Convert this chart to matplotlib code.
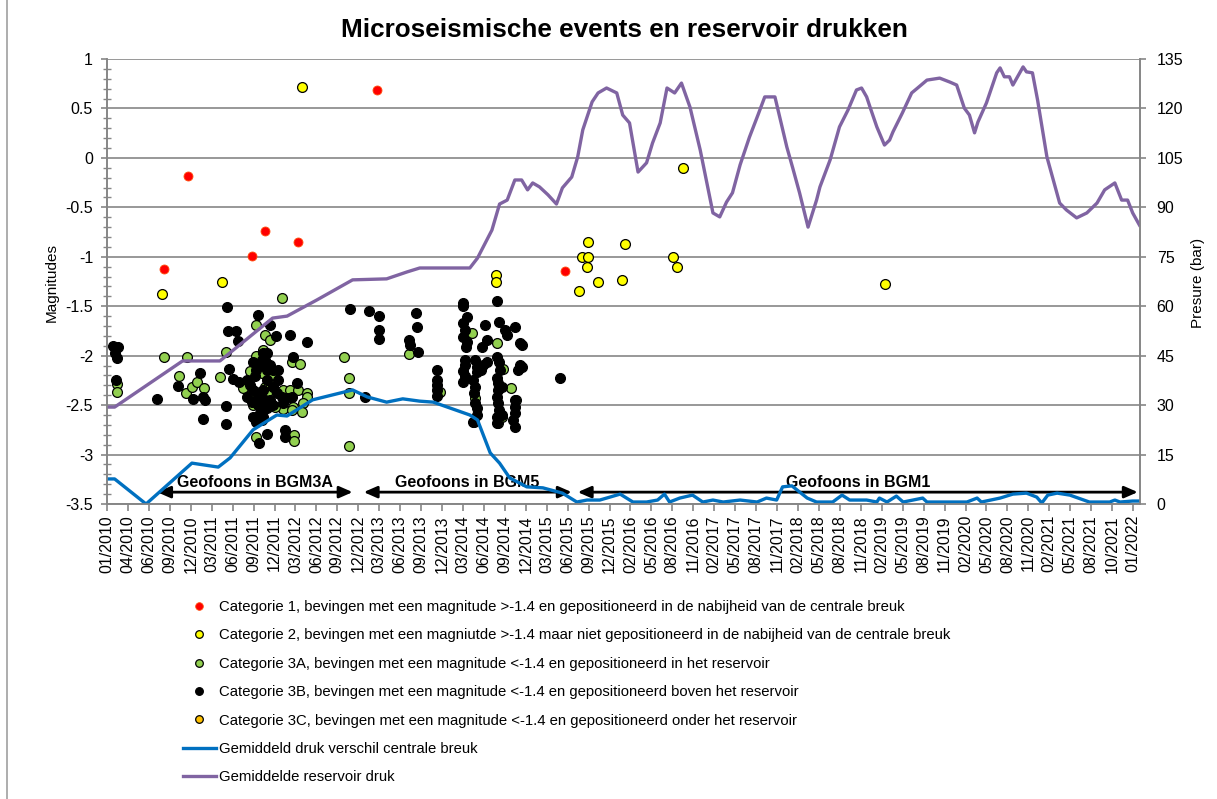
import numpy as np
import matplotlib
matplotlib.use('Agg')
import matplotlib.pyplot as plt
import matplotlib.dates as mdates
from matplotlib.lines import Line2D
from datetime import datetime, timedelta

plt.rcParams['font.family'] = ['Liberation Sans', 'DejaVu Sans']
plt.rcParams['axes.unicode_minus'] = False

# ---------------- data (decimal years) ----------------
cat1_years = [2010.67, 2010.95, 2011.71, 2011.86, 2012.25, 2013.18, 2015.39]
cat1_mags = [-1.12, -0.18, -0.99, -0.74, -0.85, 0.69, -1.14]

cat2_years = [2010.65, 2011.35, 2012.29, 2014.58, 2014.58, 2015.56, 2015.59, 2015.66, 2015.66,
              2015.65, 2015.78, 2016.06, 2016.10, 2016.66, 2016.71, 2016.78, 2019.16]
cat2_mags = [-1.38, -1.25, 0.72, -1.18, -1.25, -1.35, -1.00, -1.00, -0.85,
             -1.10, -1.25, -1.23, -0.87, -1.00, -1.10, -0.10, -1.28]

cat3a_years = [2010.12, 2010.12, 2010.67, 2010.94, 2010.85, 2010.93, 2011.00, 2011.06, 2011.14, 2011.33,
               2011.40, 2012.06, 2011.76, 2011.86, 2011.92, 2011.76, 2012.18, 2012.27, 2012.79, 2012.85,
               2012.85, 2012.85, 2011.75, 2012.20, 2012.20, 2011.68, 2011.60, 2011.86, 2011.95, 2012.07,
               2012.15, 2012.25, 2012.35, 2012.36, 2012.31, 2012.29, 2012.19, 2012.07, 2011.98, 2011.72,
               2011.88, 2011.82, 2011.94, 2011.76, 2011.71, 2012.18, 2013.55, 2013.92, 2014.29, 2014.59,
               2014.66, 2014.75, 2014.81, 2014.33, 2014.32, 2014.65, 2014.60, 2011.84]
cat3a_mags = [-2.29, -2.37, -2.01, -2.01, -2.21, -2.38, -2.32, -2.27, -2.33, -2.22,
              -1.96, -1.42, -1.69, -1.79, -1.84, -2.00, -2.06, -2.08, -2.01, -2.23,
              -2.38, -2.91, -2.82, -2.80, -2.86, -2.16, -2.33, -2.32, -2.30, -2.35,
              -2.35, -2.35, -2.38, -2.42, -2.48, -2.57, -2.52, -2.54, -2.52, -2.50,
              -2.38, -2.18, -2.23, -2.37, -2.42, -2.55, -1.98, -2.37, -1.77, -1.87,
              -2.13, -2.33, -2.45, -2.43, -2.67, -2.62, -2.68, -1.94]

cat3b_years = [2010.07, 2010.13, 2010.12, 2010.09, 2010.11, 2010.59, 2010.84, 2011.01, 2011.09, 2011.13,
               2011.15, 2011.13, 2011.41, 2011.42, 2011.52, 2011.54, 2011.40, 2011.40, 2011.44, 2011.48,
               2011.78, 2011.92, 2011.99, 2012.16, 2012.19, 2012.35, 2012.24, 2011.88, 2012.09, 2012.09,
               2011.79, 2011.84, 2011.89, 2011.82, 2011.88, 2011.95, 2012.01,
               2011.65, 2011.56, 2011.68, 2011.72, 2011.65, 2011.71, 2011.78, 2011.80, 2011.84, 2011.88,
               2011.92, 2012.00, 2012.06, 2012.07, 2012.12, 2012.18, 2011.95, 2012.01, 2011.88, 2011.84,
               2011.74, 2011.80, 2011.86, 2011.72, 2011.76, 2011.92, 2011.78, 2011.86, 2011.95, 2011.72,
               2011.76, 2011.82, 2011.82,
               2012.86, 2013.04, 2013.08, 2013.20, 2013.20, 2013.20, 2013.64, 2013.65, 2013.55, 2013.56,
               2013.66, 2013.88, 2013.88, 2013.88, 2013.88, 2013.88,
               2014.19, 2014.19, 2014.24, 2014.19, 2014.21, 2014.19, 2014.24, 2014.22, 2014.21, 2014.21,
               2014.19, 2014.21, 2014.19, 2014.33, 2014.35, 2014.36, 2014.31, 2014.33, 2014.32, 2014.33,
               2014.35, 2014.36, 2014.31, 2014.40, 2014.42, 2014.47, 2014.45, 2014.47, 2014.41, 2014.59,
               2014.61, 2014.68, 2014.71, 2014.80, 2014.86, 2014.88, 2014.86, 2014.84, 2014.89, 2015.33,
               2014.59, 2014.61, 2014.62, 2014.59, 2014.60, 2014.60, 2014.59, 2014.60, 2014.61, 2014.59,
               2014.59, 2014.65, 2014.65, 2014.80, 2014.80, 2014.80, 2014.78, 2014.80]
cat3b_mags = [-1.90, -1.91, -2.02, -1.97, -2.25, -2.44, -2.31, -2.44, -2.18, -2.42,
              -2.45, -2.64, -1.51, -1.75, -1.75, -1.85, -2.51, -2.69, -2.13, -2.24,
              -1.59, -1.69, -1.80, -1.79, -2.01, -1.86, -2.28, -2.79, -2.75, -2.82,
              -2.88, -1.97, -1.97, -2.04, -2.14, -2.14, -2.14,
              -2.25, -2.27, -2.30, -2.35, -2.42, -2.47, -2.50, -2.58, -2.62, -2.53,
              -2.45, -2.38, -2.42, -2.48, -2.43, -2.42, -2.32, -2.25, -2.25, -2.35,
              -2.21, -2.09, -2.04, -2.06, -2.14, -2.09, -2.42, -2.45, -2.50, -2.62,
              -2.67, -2.65, -2.55,
              -1.53, -2.42, -1.55, -1.60, -1.74, -1.83, -1.57, -1.71, -1.84, -1.89,
              -1.96, -2.14, -2.25, -2.30, -2.35, -2.41,
              -1.47, -1.50, -1.61, -1.67, -1.74, -1.81, -1.86, -1.91, -2.04, -2.09,
              -2.16, -2.21, -2.27, -2.04, -2.11, -2.17, -2.25, -2.32, -2.38, -2.48,
              -2.53, -2.60, -2.67, -2.14, -2.09, -2.06, -1.69, -1.84, -1.91, -1.45,
              -1.66, -1.74, -1.79, -1.71, -1.87, -1.89, -2.09, -2.14, -2.11, -2.23,
              -2.01, -2.06, -2.14, -2.23, -2.28, -2.35, -2.42, -2.48, -2.55, -2.62,
              -2.68, -2.60, -2.32, -2.45, -2.52, -2.58, -2.65, -2.72]

cat3c_years = []
cat3c_mags = []

breuk_years = [2010.00, 2010.09, 2010.46, 2011.00, 2011.31, 2011.45, 2011.72, 2012.00, 2012.12, 2012.42,
               2012.89, 2013.06, 2013.29, 2013.48, 2013.68, 2013.84, 2014.27, 2014.36, 2014.51, 2014.62,
               2014.74, 2014.94, 2015.13, 2015.36, 2015.53, 2015.65, 2015.80, 2015.92, 2016.04, 2016.19,
               2016.35, 2016.48, 2016.56, 2016.62, 2016.74, 2016.89, 2017.01, 2017.13, 2017.25, 2017.45,
               2017.65, 2017.76, 2017.88, 2017.95, 2018.06, 2018.24, 2018.35, 2018.54, 2018.65, 2018.74,
               2018.94, 2019.06, 2019.09, 2019.18, 2019.29, 2019.37, 2019.60, 2019.65, 2019.88, 2020.12,
               2020.24, 2020.29, 2020.51, 2020.66, 2020.82, 2020.94, 2021.00, 2021.07, 2021.18, 2021.33,
               2021.56, 2021.80, 2021.86, 2021.92, 2022.07, 2022.15]
breuk_bar = [7.6, 7.6, 0.0, 12.4, 11.2, 14.0, 22.5, 27.0, 26.7, 31.6,
             34.6, 32.5, 30.9, 31.9, 31.2, 30.9, 27.0, 25.5, 15.5, 12.4,
             7.9, 5.2, 4.9, 3.3, 0.6, 1.2, 1.2, 2.1, 3.0, 0.6,
             0.6, 1.2, 3.0, 0.6, 1.8, 2.7, 0.6, 1.2, 0.6, 1.2,
             0.6, 1.8, 1.2, 5.2, 5.5, 1.8, 0.6, 0.6, 2.7, 1.2,
             1.2, 0.6, 1.8, 0.6, 2.4, 0.6, 1.8, 0.6, 0.6, 0.6,
             1.8, 0.6, 1.8, 3.0, 3.3, 2.1, 0.3, 2.7, 3.3, 2.7,
             0.6, 0.6, 1.2, 0.6, 0.9, 0.9]

res_years = [2010.00, 2010.09, 2010.89, 2011.33, 2011.95, 2012.12, 2012.47, 2012.89, 2013.29, 2013.53,
             2013.68, 2013.92, 2014.27, 2014.36, 2014.53, 2014.62, 2014.71, 2014.80, 2014.88, 2014.95,
             2015.01, 2015.09, 2015.19, 2015.29, 2015.36, 2015.47, 2015.54, 2015.60, 2015.71, 2015.78,
             2015.88, 2016.00, 2016.07, 2016.15, 2016.25, 2016.35, 2016.42, 2016.51, 2016.59, 2016.68,
             2016.76, 2016.86, 2016.98, 2017.13, 2017.21, 2017.29, 2017.36, 2017.45, 2017.56, 2017.66,
             2017.74, 2017.86, 2018.00, 2018.07, 2018.15, 2018.25, 2018.35, 2018.39, 2018.51, 2018.62,
             2018.72, 2018.82, 2018.88, 2018.94, 2018.98, 2019.06, 2019.15, 2019.21, 2019.25, 2019.36,
             2019.47, 2019.54, 2019.65, 2019.80, 2019.92, 2020.00, 2020.09, 2020.15, 2020.21, 2020.25,
             2020.35, 2020.47, 2020.51, 2020.56, 2020.62, 2020.66, 2020.78, 2020.82, 2020.89, 2020.95,
             2021.06, 2021.21, 2021.29, 2021.41, 2021.53, 2021.65, 2021.74, 2021.86, 2021.94, 2022.01,
             2022.07, 2022.15]
res_bar = [29.4, 29.4, 43.4, 43.4, 56.4, 57.0, 61.9, 68.0, 68.3, 70.4,
           71.6, 71.6, 71.6, 74.6, 83.1, 91.0, 92.2, 98.3, 98.3, 95.3,
           97.4, 96.2, 93.8, 91.0, 95.9, 99.2, 105.3, 113.5, 122.0, 124.7,
           126.2, 124.7, 118.0, 115.6, 100.7, 103.5, 109.5, 115.6, 126.2, 124.7,
           127.7, 120.4, 107.4, 88.3, 87.1, 91.6, 94.4, 102.9, 111.3, 118.0,
           123.5, 123.5, 108.3, 101.9, 94.4, 84.0, 92.2, 96.2, 104.4, 114.4,
           119.5, 125.6, 126.2, 123.5, 120.4, 114.4, 108.9, 110.4, 112.9, 118.6,
           124.7, 126.2, 128.6, 129.2, 128.0, 127.1, 120.1, 118.0, 112.6, 115.9,
           121.7, 130.8, 132.3, 129.6, 129.6, 127.1, 132.6, 131.1, 130.8, 122.6,
           105.3, 91.3, 89.2, 86.8, 88.3, 91.3, 95.3, 97.4, 92.2, 92.2,
           88.3, 84.6]

xtick_labels = ["01/2010", "04/2010", "06/2010", "09/2010", "12/2010", "03/2011", "06/2011", "09/2011",
                "12/2011", "03/2012", "06/2012", "09/2012", "12/2012", "03/2013", "06/2013", "09/2013",
                "12/2013", "03/2014", "06/2014", "09/2014", "12/2014", "03/2015", "06/2015", "09/2015",
                "12/2015", "02/2016", "05/2016", "08/2016", "11/2016", "02/2017", "05/2017", "08/2017",
                "11/2017", "02/2018", "05/2018", "08/2018", "11/2018", "02/2019", "05/2019", "08/2019",
                "11/2019", "02/2020", "05/2020", "08/2020", "11/2020", "02/2021", "05/2021", "08/2021",
                "10/2021", "01/2022"]
tick_step_days = 90

geofoon_labels = ["Geofoons in BGM3A", "Geofoons in BGM5", "Geofoons in BGM1"]
geofoon_from = [2010.59, 2013.02, 2015.54]
geofoon_to = [2012.89, 2015.47, 2022.13]
geofoon_textx = [2011.74, 2014.24, 2018.84]

legend_labels = [
    "Categorie 1, bevingen met een magnitude >-1.4 en gepositioneerd in de nabijheid van de centrale breuk",
    "Categorie 2, bevingen met een magniutde >-1.4 maar niet gepositioneerd in de nabijheid van de centrale breuk",
    "Categorie 3A, bevingen met een magnitude <-1.4 en gepositioneerd in het reservoir",
    "Categorie 3B, bevingen met een magnitude <-1.4 en gepositioneerd boven het reservoir",
    "Categorie 3C, bevingen met een magnitude <-1.4 en gepositioneerd onder het reservoir",
    "Gemiddeld druk verschil centrale breuk",
    "Gemiddelde reservoir druk",
]


def yr(values):
    out = []
    for v in np.atleast_1d(values):
        year = int(np.floor(v))
        start = datetime(year, 1, 1)
        ndays = (datetime(year + 1, 1, 1) - start).days
        out.append(start + timedelta(days=(v - year) * ndays))
    return mdates.date2num(out)


GRID = '#868686'
RED, YEL, GRN, BLK, ORG = '#FF0000', '#FFFF00', '#92D050', '#000000', '#FFC000'
BLUE, PURPLE = '#0070C0', '#8064A2'

fig = plt.figure(figsize=(12.17, 7.99), dpi=100)
ax = fig.add_axes([107 / 1217, 1 - 504 / 799, (1140 - 107) / 1217, (504 - 59) / 799])
ax2 = ax.twinx()

ms = 50
ax.scatter(yr(cat1_years), cat1_mags, s=42, c=RED, edgecolors='#FF5010', linewidths=0.6, zorder=3)
ax.scatter(yr(cat2_years), cat2_mags, s=ms, c=YEL, edgecolors='black', linewidths=0.9, zorder=3)
ax.scatter(yr(cat3a_years), cat3a_mags, s=ms, c=GRN, edgecolors='black', linewidths=0.9, zorder=3)
ax.scatter(yr(cat3b_years), cat3b_mags, s=ms, c=BLK, edgecolors='black', linewidths=0.9, zorder=4)
if cat3c_years:
    ax.scatter(yr(cat3c_years), cat3c_mags, s=ms, c=ORG, edgecolors='black', linewidths=0.9, zorder=4)

ax2.plot(yr(breuk_years), breuk_bar, color=BLUE, lw=2.4, solid_joinstyle='round')
ax2.plot(yr(res_years), res_bar, color=PURPLE, lw=2.4, solid_joinstyle='round')

x0 = datetime(2010, 1, 1)
tick_pos = mdates.date2num([x0 + timedelta(days=tick_step_days * k) for k in range(len(xtick_labels))])
ax.set_xticks(tick_pos)
ax.set_xticklabels(xtick_labels, rotation=90, fontsize=11.5)
ax.set_xlim(mdates.date2num(x0), mdates.date2num(x0 + timedelta(days=4440)))

yt = np.arange(-3.5, 1.01, 0.5)
ax.set_ylim(-3.5, 1)
ax.set_yticks(yt)
ax.set_yticklabels([('%g' % v) for v in yt], fontsize=11.5)
ax.set_yticks(np.arange(-3.5, 1.01, 0.1), minor=True)
ax2.set_ylim(0, 135)
ax2.set_yticks(np.arange(0, 136, 15))
ax2.set_yticklabels([str(v) for v in range(0, 136, 15)], fontsize=11.5)

ax.yaxis.grid(True, color=GRID, lw=1.2)
ax.set_axisbelow(True)
for a in (ax, ax2):
    a.spines['top'].set_visible(False)
    for s in ('left', 'right', 'bottom'):
        a.spines[s].set_color(GRID)
        a.spines[s].set_linewidth(1.2)
ax.tick_params(axis='y', which='major', direction='out', length=4, color=GRID, width=1.2, pad=6)
ax.tick_params(axis='y', which='minor', direction='inout', length=6, color=GRID, width=1)
ax.tick_params(axis='x', direction='out', length=5, color=GRID, width=1.2, pad=3)
ax2.tick_params(axis='y', direction='out', length=4, color=GRID, width=1.2, pad=8)

for lab, f, t, tx in zip(geofoon_labels, geofoon_from, geofoon_to, geofoon_textx):
    ax.annotate('', xy=(yr(t)[0], -3.38), xytext=(yr(f)[0], -3.38),
                arrowprops=dict(arrowstyle='<|-|>,head_length=0.8,head_width=0.35', color='black', lw=2,
                                shrinkA=0, shrinkB=0), zorder=5)
    ax.text(yr(tx)[0], -3.28, lab, ha='center', va='center', fontsize=11.5, fontweight='bold', zorder=6)

fig.text(624 / 1217, 1 - 30 / 799, 'Microseismische events en reservoir drukken', ha='center', va='center',
         fontsize=18.8, fontweight='bold')
fig.text(52 / 1217, 1 - 283 / 799, 'Magnitudes', rotation=90, ha='center', va='center', fontsize=11)
fig.text(1198 / 1217, 1 - 283 / 799, 'Presure (bar)', rotation=90, ha='center', va='center', fontsize=11)

handles = [
    Line2D([], [], ls='', marker='o', ms=5.5, mfc=RED, mec='#FF5010', mew=0.6),
    Line2D([], [], ls='', marker='o', ms=5.5, mfc=YEL, mec='black', mew=0.9),
    Line2D([], [], ls='', marker='o', ms=5.5, mfc=GRN, mec='black', mew=0.9),
    Line2D([], [], ls='', marker='o', ms=5.5, mfc=BLK, mec='black', mew=0.9),
    Line2D([], [], ls='', marker='o', ms=5.5, mfc=ORG, mec='black', mew=0.9),
    Line2D([], [], color=BLUE, lw=2.4),
    Line2D([], [], color=PURPLE, lw=2.4),
]
fig.legend(handles, legend_labels, loc='upper left', bbox_to_anchor=(183 / 1217, 1 - 600 / 799),
           frameon=False, fontsize=10.7, borderpad=0, borderaxespad=0, handlelength=2.2,
           handletextpad=0.22, labelspacing=0.97)

fig.add_artist(Line2D([7 / 1217, 7 / 1217], [0, 1], color='#A0A0A0', lw=1.2, transform=fig.transFigure))

fig.savefig('out.png', dpi=100)
